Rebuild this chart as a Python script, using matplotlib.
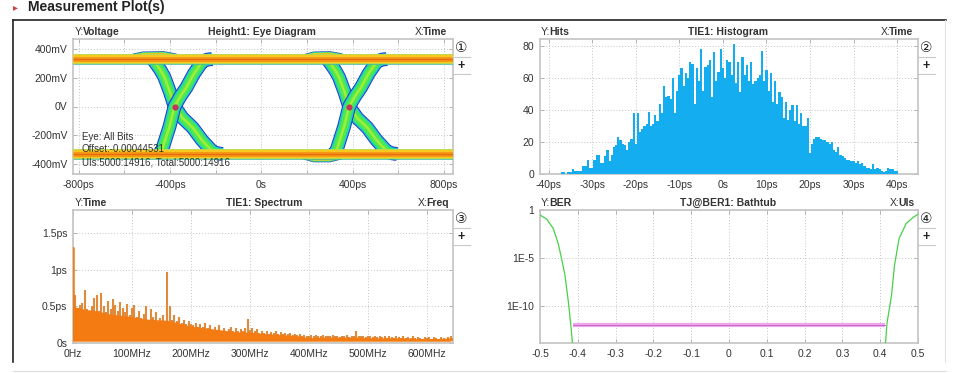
import numpy as np
import matplotlib
matplotlib.use('Agg')
import matplotlib.pyplot as plt
from matplotlib.lines import Line2D

plt.rcParams['font.family'] = ['Liberation Sans', 'DejaVu Sans']

W, H = 966, 373
TXT = '#333333'
GRID = '#c4c4c4'

# eye diagram, traces in ps / mV
eye_ticks = [-800, -400, 0, 400, 800]
eye_tick_labels = ['-800ps', '-400ps', '0s', '400ps', '800ps']
eye_y_ticks = [-400, -200, 0, 200, 400]
eye_y_labels = ['-400mV', '-200mV', '0V', '200mV', '400mV']
eye_period = 765
cross_t = [-380, 385]
cross_v = [0, 0]
fall_t = [-480, -470, -459, -440, -424, -400, -380, -345, -301, -260, -214, -190, -170]
fall_v = [335, 318, 294, 250, 203, 100, 0, -80, -147, -235, -315, -328, -332]
rise_t = [-452, -437, -420, -402, -380, -355, -328, -295, -258, -235, -215]
rise_v = [-335, -315, -230, -140, 0, 70, 133, 230, 315, 328, 332]
rail_t = [-825, 840]
top_v = [332, 332]
bot_v = [-332, -332]
bump_t = [-630, -580, -520, -430, -385, -340]
bump_top_v = [332, 340, 362, 365, 352, 332]
bump2_t = [130, 180, 230, 300, 345, 380]
bump2_top_v = [332, 340, 362, 365, 352, 332]
bump2_bot_v = [-332, -345, -368, -368, -350, -332]

# histogram, hits per 0.5 ps bin from -38 ps
hist_start = -38
hist_bin = 0.5
hist_hits = [0, 0, 1, 1, 0, 1, 1, 3, 2, 2,
             2, 2, 5, 5, 9, 4, 4, 9, 12, 12,
             7, 7, 11, 15, 8, 12, 17, 18, 23, 21,
             19, 18, 15, 20, 22, 38, 19, 38, 26, 28,
             30, 31, 39, 30, 31, 37, 33, 44, 38, 55,
             48, 49, 47, 60, 38, 52, 62, 66, 55, 63,
             60, 70, 69, 44, 66, 58, 78, 52, 67, 68,
             71, 48, 76, 58, 64, 78, 66, 60, 71, 70,
             62, 81, 57, 70, 51, 73, 62, 68, 58, 70,
             56, 58, 60, 62, 77, 58, 65, 52, 63, 45,
             58, 44, 51, 48, 35, 45, 34, 40, 43, 33,
             43, 31, 38, 30, 30, 35, 13, 19, 22, 23,
             23, 22, 21, 21, 20, 19, 20, 15, 14, 17,
             12, 11, 10, 9, 9, 8, 8, 7, 8, 6,
             7, 5, 4, 4, 3, 6, 3, 4, 3, 2,
             1, 2, 4, 3, 3, 2, 2]
hist_ticks = [-40, -30, -20, -10, 0, 10, 20, 30, 40]
hist_tick_labels = ['-40ps', '-30ps', '-20ps', '-10ps', '0s', '10ps', '20ps', '30ps', '40ps']

# spectrum, spikes in ps per 4 MHz step, solid part per 20 MHz step
spec_step = 4
spec_floor = 0.025
spec_ps = [1.32, .66, .48, .52, .55, .72, .46, .40, .50, .62,
           .66, .44, .68, .50, .42, .58, .46, .60, .52, .44,
           .56, .48, .42, .54, .38, .48, .52, .36, .44, .34,
           .40, .50, .32, .46, .36, .42, .30, .34, .38, .30,
           .97, .50, .32, .38, .30, .36, .28, .32, .26, .30,
           .26, .24, .28, .22, .26, .22, .28, .20, .24, .18,
           .22, .18, .24, .17, .20, .16, .19, .22, .16, .20,
           .17, .19, .16, .21, .33, .18, .20, .16, .19, .14,
           .17, .14, .16, .13, .15, .14, .16, .13, .15, .12,
           .14, .12, .14, .11, .13, .11, .12, .10, .11, .09,
           .10, .11, .09, .11, .09, .10, .11, .09, .10, .09,
           .11, .09, .10, .08, .10, .09, .11, .08, .10, .09,
           .17, .10, .09, .10, .08, .09, .10, .08, .09, .08,
           .09, .08, .10, .07, .09, .08, .07, .09, .08, .07,
           .09, .07, .08, .07, .09, .07, .08, .07, .06, .08,
           .07, .08, .06, .08, .07, .06, .08, .07, .06, .08,
           .09, .07]
core_step = 20
spec_core = [.50, .46, .44, .40, .38, .36, .33, .32, .31, .27, .23, .21, .19, .17, .15, .15, .13,
             .12, .11, .10, .07, .08, .08, .08, .08, .07, .07, .07, .07, .06, .06, .06, .07]
spec_ticks = [0, 100, 200, 300, 400, 500, 600]
spec_tick_labels = ['0Hz', '100MHz', '200MHz', '300MHz', '400MHz', '500MHz', '600MHz']
spec_y_ticks = [0, 0.5, 1, 1.5]
spec_y_labels = ['0s', '0.5ps', '1ps', '1.5ps']

# bathtub
tub_left_x = [-0.5, -0.482, -0.465, -0.452, -0.443, -0.434, -0.425, -0.419, -0.414]
tub_left_y = [3e-1, 1.1e-1, 1.2e-2, 3.4e-4, 9e-6, 1.7e-7, 2.8e-10, 1.6e-12, 1.3e-14]
tub_right_x = [0.414, 0.418, 0.43, 0.438, 0.45, 0.469, 0.487, 0.5]
tub_right_y = [1.3e-14, 1.6e-12, 1.4e-9, 1.9e-6, 1.1e-3, 4e-2, 1.7e-1, 3.5e-1]
tj_x = [-0.413, 0.414]
tj_y = [1e-12, 1e-12]
tub_ticks = [-0.5, -0.4, -0.3, -0.2, -0.1, 0, 0.1, 0.2, 0.3, 0.4, 0.5]
tub_tick_labels = ['-0.5', '-0.4', '-0.3', '-0.2', '-0.1', '0', '0.1', '0.2', '0.3', '0.4', '0.5']


fig = plt.figure(figsize=(W / 100, H / 100), dpi=100, facecolor='white')


def fx(x):
    return x / W


def fy(y):
    return 1 - y / H


def fig_line(x0, y0, x1, y1, color, lw):
    fig.add_artist(Line2D([fx(x0), fx(x1)], [fy(y0), fy(y1)], color=color, lw=lw))


def panel(x0, x1, y0, y1, num, ytxt, title, xtxt, ylab_x, xlab_x, title_x):
    ax = fig.add_axes([fx(x0), fy(y1), fx(x1 - x0), (y1 - y0) / H])
    for s in ax.spines.values():
        s.set_color('#c4c4c4')
        s.set_linewidth(1.2)
    ax.tick_params(length=3, width=0.6, color='#aaaaaa', labelsize=7.5,
                   labelcolor=TXT, direction='in', top=True, right=True, pad=4)
    ax.grid(True, ls=(0, (1, 2)), color=GRID, lw=0.7)
    ax.set_axisbelow(True)
    ty = y0 - 7
    fig.text(fx(ylab_x), fy(ty), 'Y:', fontsize=7.5, color=TXT, va='center')
    fig.text(fx(ylab_x + 8), fy(ty), ytxt, fontsize=7.5, color=TXT, va='center', fontweight='bold')
    fig.text(fx(title_x), fy(ty), title, fontsize=7.5, color=TXT, va='center', ha='center', fontweight='bold')
    fig.text(fx(xlab_x), fy(ty), 'X:', fontsize=7.5, color=TXT, va='center')
    fig.text(fx(xlab_x + 8), fy(ty), xtxt, fontsize=7.5, color=TXT, va='center', fontweight='bold')
    bx = x1 + 8
    fig.text(fx(bx), fy(y0 + 9), num, fontsize=10, color='#222222', ha='center', va='center',
             family='DejaVu Sans')
    fig.text(fx(bx), fy(y0 + 27), '+', fontsize=9, color='#222222', ha='center', va='center',
             fontweight='bold')
    fig_line(bx - 9, y0 + 18, bx + 9, y0 + 18, '#c8c8c8', 0.8)
    fig_line(bx - 9, y0 + 35, bx + 9, y0 + 35, '#c8c8c8', 0.8)
    return ax


# heading and page frame
fig.text(fx(28), fy(7), 'Measurement Plot(s)', fontsize=10, fontweight='bold', color='#222222',
         va='center')
fig.text(fx(15), fy(7), '\u25b8', fontsize=7, color='#d04040', ha='center', va='center',
         family='DejaVu Sans')
fig_line(13, 20, 946, 20, '#222222', 1.2)
fig_line(13, 20, 13, 362, '#222222', 1.2)
fig_line(13, 371, 946, 371, '#dddddd', 0.8)
fig_line(945, 20, 945, 362, '#e4e4e4', 0.8)

# 1: eye diagram
ax = panel(73, 453, 39, 174, '\u2460', 'Voltage', 'Height1: Eye Diagram', 'Time', 75, 415, 262)
ax.set_xlim(-825, 840)
ax.set_ylim(-472, 472)
ax.set_xticks(eye_ticks, eye_tick_labels)
ax.set_yticks(eye_y_ticks, eye_y_labels)
ax.set_xticks([-600, -200, 200, 600], minor=True)
ax.tick_params(which='minor', length=3, width=0.6, color='#aaaaaa', direction='in', top=True)
ax.grid(True, which='minor', axis='x', ls=(0, (1, 2)), color=GRID, lw=0.7)

edge_layers = [('#1c3cc8', 10.0), ('#20b8e8', 8.6), ('#28dc90', 7.6), ('#50e850', 5.6), ('#a0ee38', 1.8)]
rail_layers = [('#48b8a0', 7.6), ('#c8e040', 7.0), ('#f8c820', 5.8),
               ('#f49a14', 3.6), ('#ea6a10', 1.0)]
bump_layers = [('#2a50b8', 4.6), ('#40d890', 3.7), ('#d8d830', 2.4), ('#f09a18', 1.0)]
for shift in (0, eye_period):
    for col, lw in edge_layers:
        ax.plot(np.array(fall_t) + shift, fall_v, color=col, lw=lw, solid_capstyle='butt', zorder=3)
    for col, lw in edge_layers:
        ax.plot(np.array(rise_t) + shift, rise_v, color=col, lw=lw, solid_capstyle='butt', zorder=3)
for col, lw in bump_layers:
    ax.plot(bump_t, bump_top_v, color=col, lw=lw, zorder=4)
    ax.plot(bump2_t, bump2_top_v, color=col, lw=lw, zorder=4)
    ax.plot(bump2_t, bump2_bot_v, color=col, lw=lw, zorder=4)
for col, lw in rail_layers:
    ax.plot(rail_t, top_v, color=col, lw=lw, solid_capstyle='butt', zorder=5)
    ax.plot(rail_t, bot_v, color=col, lw=lw, solid_capstyle='butt', zorder=5)
ax.plot(cross_t, cross_v, ls='none', marker='o', ms=3.4, color='#c83060', zorder=6)
for yy, s in [(137, 'Eye: All Bits'), (149, 'Offset:-0.00044531'),
              (162, 'UIs:5000:14916, Total:5000:14916')]:
    fig.text(fx(82), fy(yy), s, fontsize=7, color=TXT, va='center', zorder=10)

# 2: histogram
ax = panel(540, 918, 39, 174, '\u2461', 'Hits', 'TIE1: Histogram', 'Time', 541, 881, 728)
ax.set_xlim(-42, 44.8)
ax.set_ylim(0, 84.4)
hist_x = hist_start + hist_bin * np.arange(len(hist_hits))
ax.bar(hist_x, hist_hits, width=hist_bin, color='#14aef0', lw=0, zorder=3)
ax.set_xticks(hist_ticks, hist_tick_labels)
ax.set_yticks([0, 20, 40, 60, 80], ['0', '20', '40', '60', '80'])

# 3: spectrum
ax = panel(73, 453, 210, 343, '\u2462', 'Time', 'TIE1: Spectrum', 'Freq', 75, 418, 264)
ax.set_xlim(0, 644)
ax.set_ylim(0, 1.82)
spec_x = spec_step * np.arange(len(spec_ps))
core_x = core_step * np.arange(len(spec_core))
ax.axhspan(0, spec_floor, color='#ffe9c0', lw=0, zorder=2)
ax.vlines(spec_x, spec_floor, spec_ps, color='#e08a3c', lw=1.5, zorder=3)
ax.vlines(spec_x[:1], spec_floor, spec_ps[:1], color='#f47a12', lw=1.8, zorder=3)
ax.fill_between(core_x, spec_floor, spec_core, color='#f47a12', lw=0, zorder=4)
ax.set_xticks(spec_ticks, spec_tick_labels)
ax.set_yticks(spec_y_ticks, spec_y_labels)

# 4: bathtub
ax = panel(540, 918, 210, 343, '\u2463', 'BER', 'TJ@BER1: Bathtub', 'UIs', 541, 890, 728)
ax.set_xlim(-0.5, 0.5)
ax.set_yscale('log')
ax.set_ylim(10 ** -13.85, 1)
ax.plot(tub_left_x, tub_left_y, color='#48d048', lw=0.9, zorder=3)
ax.plot(tub_right_x, tub_right_y, color='#48d048', lw=0.9, zorder=3)
ax.plot(tj_x, tj_y, color='#eaa8ea', lw=3.0, zorder=3, solid_capstyle='butt')
ax.plot(tj_x, tj_y, color='#c868c8', lw=0.7, zorder=4)
ax.set_xticks(tub_ticks, tub_tick_labels)
ax.set_yticks([1, 1e-5, 1e-10], ['1', '1E-5', '1E-10'])
ax.minorticks_off()

fig.savefig('out.png', dpi=100)
